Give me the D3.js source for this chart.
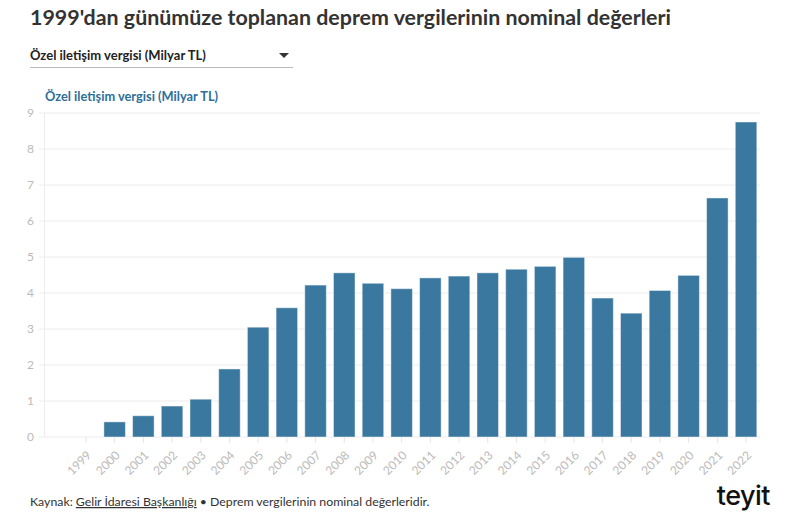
<!DOCTYPE html>
<html>
<head>
<meta charset="utf-8">
<script src="https://cdn.jsdelivr.net/npm/d3@7"></script>
<style>
  html, body { margin: 0; padding: 0; background: #fff; }
  svg { display: block; font-family: Lato, "Noto Sans", sans-serif; }
</style>
</head>
<body>
<svg id="chart" width="800" height="523"></svg>
<script>
const years = ["1999","2000","2001","2002","2003","2004","2005","2006","2007","2008","2009","2010","2011","2012","2013","2014","2015","2016","2017","2018","2019","2020","2021","2022"];
const values = [0, 0.42, 0.59, 0.86, 1.05, 1.89, 3.05, 3.59, 4.22, 4.56, 4.27, 4.12, 4.42, 4.47, 4.56, 4.66, 4.74, 4.99, 3.86, 3.44, 4.07, 4.49, 6.64, 8.75];
const yTicks = [0,1,2,3,4,5,6,7,8,9];
const titleText = "1999'dan günümüze toplanan deprem vergilerinin nominal değerleri";
const seriesName = "Özel iletişim vergisi (Milyar TL)";

const svg = d3.select("#chart");

// Title
svg.append("text").attr("x", 30).attr("y", 25)
  .attr("font-size", 21.4).attr("font-weight", 700).attr("fill", "#333")
  .text(titleText);

// Dropdown
svg.append("text").attr("x", 30).attr("y", 60)
  .attr("font-size", 13).attr("font-weight", 700).attr("fill", "#222")
  .text(seriesName);
svg.append("line").attr("x1", 30).attr("x2", 293).attr("y1", 67.5).attr("y2", 67.5)
  .attr("stroke", "#bbb").attr("stroke-width", 1);
svg.append("path").attr("d", "M279,53 L289,53 L284,58 Z").attr("fill", "#333");

// Chart label
svg.append("text").attr("x", 45).attr("y", 101)
  .attr("font-size", 12.8).attr("font-weight", 700).attr("fill", "#2e6f9a")
  .text(seriesName);

const x = d3.scaleBand().domain(years).range([71.6, 760.4]).paddingInner(0.25).paddingOuter(0.125);
const y = d3.scaleLinear().domain([0, 9]).range([437, 113]);

// Gridlines
svg.append("g").selectAll("line").data(yTicks).join("line")
  .attr("x1", 39).attr("x2", 760)
  .attr("y1", d => y(d)).attr("y2", d => y(d))
  .attr("stroke", "#ececec").attr("stroke-width", 1);

// Y axis line
svg.append("line").attr("x1", 44.5).attr("x2", 44.5).attr("y1", 113).attr("y2", 437)
  .attr("stroke", "#ececec");

// Y labels
svg.append("g").selectAll("text").data(yTicks).join("text")
  .attr("x", 34).attr("y", d => y(d)).attr("dy", "0.35em")
  .attr("text-anchor", "end").attr("font-size", 12).attr("fill", "#bbb")
  .text(d => d);

// Bars
svg.append("g").selectAll("rect").data(years).join("rect")
  .attr("x", d => x(d)).attr("width", x.bandwidth())
  .attr("y", (d, i) => y(values[i]))
  .attr("height", (d, i) => y(0) - y(values[i]))
  .attr("fill", "#3a789f")
  .attr("stroke", "#fff").attr("stroke-opacity", 0.45).attr("stroke-width", 1);

// X axis
const xg = svg.append("g").attr("transform", "translate(0,437)");
xg.selectAll("line").data(years).join("line")
  .attr("x1", d => x(d) + x.bandwidth()/2).attr("x2", d => x(d) + x.bandwidth()/2)
  .attr("y1", 0).attr("y2", 6).attr("stroke", "#e6e6e6");
xg.selectAll("text").data(years).join("text")
  .attr("transform", d => `translate(${x(d) + x.bandwidth()/2 + 6},${19}) rotate(-45)`)
  .attr("text-anchor", "end").attr("font-size", 12).attr("fill", "#bbb")
  .text(d => d);

// Footer
const foot = svg.append("text").attr("x", 30).attr("y", 506)
  .attr("font-size", 12.3).attr("fill", "#333");
foot.append("tspan").text("Kaynak: ");
foot.append("tspan").attr("text-decoration", "underline").text("Gelir İdaresi Başkanlığı");
foot.append("tspan").text(" • Deprem vergilerinin nominal değerleridir.");

svg.append("text").attr("x", 770).attr("y", 505).attr("text-anchor", "end")
  .attr("font-size", 27).attr("font-weight", 500).attr("fill", "#111")
  .attr("font-family", "Inter, sans-serif").attr("letter-spacing", -0.5)
  .text("teyit");
</script>
</body>
</html>
